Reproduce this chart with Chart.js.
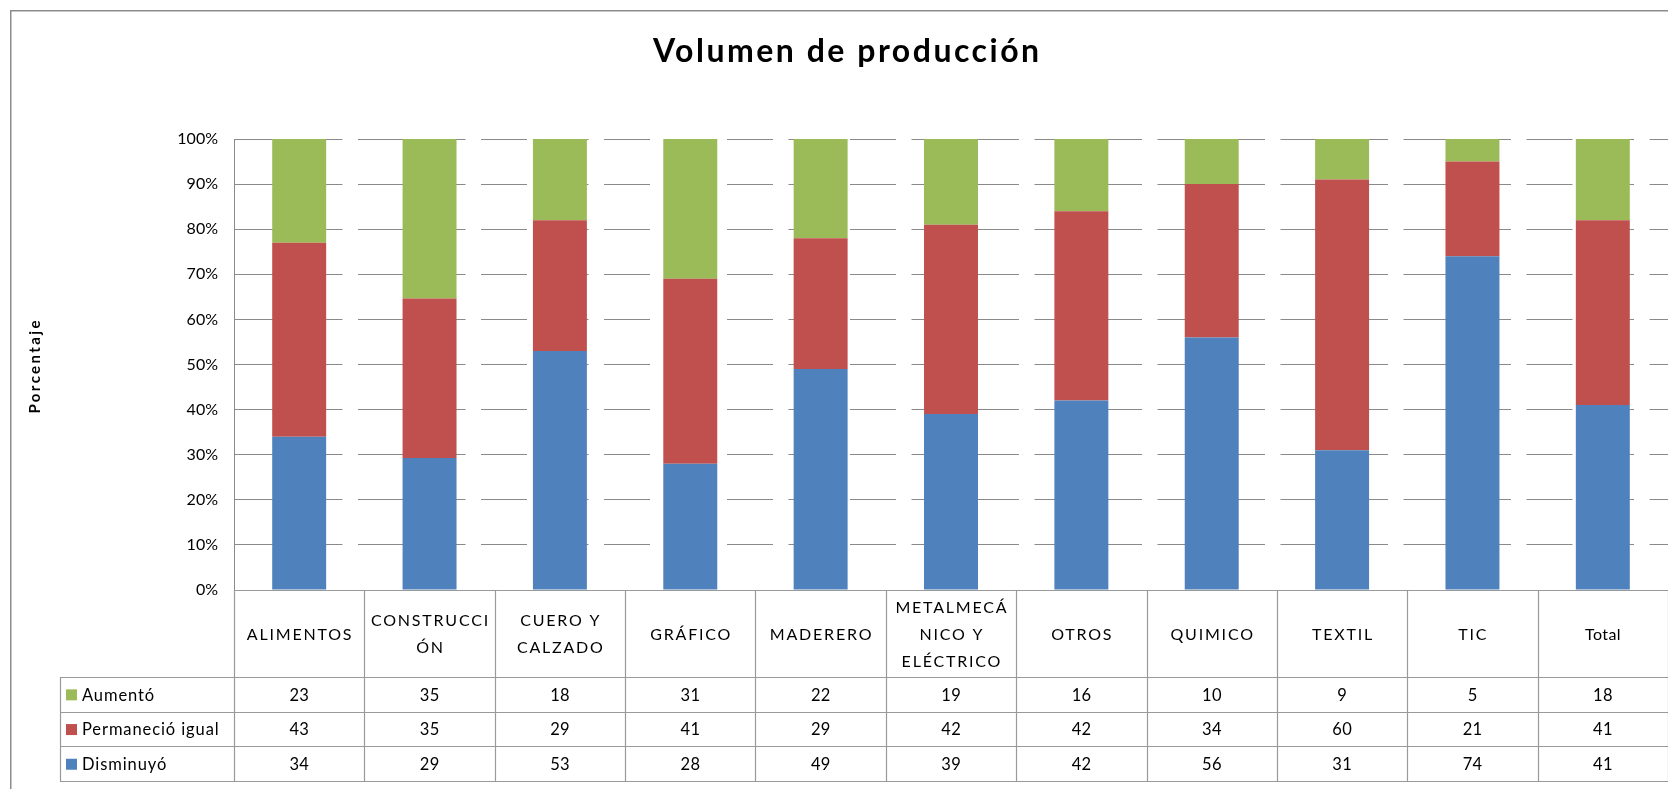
<!DOCTYPE html>
<html>
<head>
<meta charset="utf-8">
<script src="https://cdn.jsdelivr.net/npm/chart.js@4.4.0/dist/chart.umd.min.js"></script>
<style>
  html, body { margin: 0; padding: 0; background: #fff; }
</style>
</head>
<body>
<canvas id="chart" width="1668" height="789"></canvas>
<script>
// header labels of the data table, one entry per line
const categories = [
  ["ALIMENTOS"],
  ["CONSTRUCCI", "ÓN"],
  ["CUERO Y", "CALZADO"],
  ["GRÁFICO"],
  ["MADERERO"],
  ["METALMECÁ", "NICO Y", "ELÉCTRICO"],
  ["OTROS"],
  ["QUIMICO"],
  ["TEXTIL"],
  ["TIC"],
  ["Total"]
];
const aumento = [23, 35, 18, 31, 22, 19, 16, 10, 9, 5, 18];
const permanecio = [43, 35, 29, 41, 29, 42, 42, 34, 60, 21, 41];
const disminuyo = [34, 29, 53, 28, 49, 39, 42, 56, 31, 74, 41];
const yTicks = [0, 10, 20, 30, 40, 50, 60, 70, 80, 90, 100];

const FONT = "Lato, 'Open Sans', sans-serif";
const BLUE = "#4F81BD", RED = "#C0504D", GREEN = "#9BBB59";
const LINE = "#9a9a9a";

// 100% stacked: each bar is scaled to its own total
const totals = categories.map((_, i) => aumento[i] + permanecio[i] + disminuyo[i]);
const pct = (arr) => arr.map((v, i) => (v / totals[i]) * 100);

// table rows, top to bottom, as in the reference
const rows = [
  { label: "Aumentó", color: GREEN, values: aumento },
  { label: "Permaneció igual", color: RED, values: permanecio },
  { label: "Disminuyó", color: BLUE, values: disminuyo }
];

function spacedText(ctx, s, x, y, spacing, align) {
  ctx.letterSpacing = spacing + "px";
  ctx.textAlign = align;
  // centred text carries one trailing gap, shift it back
  const dx = align === "center" ? spacing / 2 : 0;
  ctx.fillText(s, x + dx, y);
  ctx.letterSpacing = "0px";
}

const tablePlugin = {
  id: "tablePlugin",
  afterDraw(chart) {
    const ctx = chart.ctx;
    const area = chart.chartArea;
    const x = chart.scales.x;
    const W = chart.width, H = chart.height;

    ctx.save();

    // outer frame (right and bottom are cut off in the reference)
    ctx.strokeStyle = "#8c8c8c";
    ctx.lineWidth = 1.5;
    ctx.beginPath();
    ctx.moveTo(10.75, H);
    ctx.lineTo(10.75, 10.75);
    ctx.lineTo(W, 10.75);
    ctx.stroke();

    // title
    ctx.fillStyle = "#000";
    ctx.font = "bold 32px " + FONT;
    ctx.textBaseline = "alphabetic";
    spacedText(ctx, "Volumen de producción", 846, 62, 2.5, "center");

    // y axis title
    ctx.save();
    ctx.translate(40, 367);
    ctx.rotate(-Math.PI / 2);
    ctx.font = "bold 15px " + FONT;
    spacedText(ctx, "Porcentaje", 0, 0, 2.4, "center");
    ctx.restore();

    // table geometry
    const n = categories.length;
    const slot = (x.getPixelForValue(1) - x.getPixelForValue(0));
    const bounds = [];
    for (let i = 0; i <= n; i++) bounds.push(x.getPixelForValue(0) - slot / 2 + i * slot);
    const headTop = area.bottom;
    const tableTop = 677;
    const rowH = 34.7;
    const tableLeft = 60;
    const tableBottom = tableTop + rowH * rows.length;

    ctx.strokeStyle = LINE;
    ctx.lineWidth = 1.2;
    ctx.beginPath();
    ctx.moveTo(bounds[0], headTop + 0.5);
    ctx.lineTo(W, headTop + 0.5);
    for (let r = 0; r <= rows.length; r++) {
      const yy = Math.round(tableTop + r * rowH) + 0.5;
      ctx.moveTo(tableLeft, yy);
      ctx.lineTo(W, yy);
    }
    ctx.moveTo(tableLeft + 0.5, tableTop);
    ctx.lineTo(tableLeft + 0.5, tableBottom);
    for (let i = 0; i < bounds.length; i++) {
      const xx = Math.round(bounds[i]) + 0.5;
      ctx.moveTo(xx, headTop);
      ctx.lineTo(xx, tableBottom);
    }
    ctx.stroke();

    // header labels
    ctx.fillStyle = "#000";
    ctx.font = "16px " + FONT;
    ctx.textBaseline = "middle";
    const headMid = (headTop + tableTop) / 2 + 1;
    const lh = 27;
    categories.forEach((lines, i) => {
      const cx = x.getPixelForValue(i);
      const upper = lines.join("") === lines.join("").toUpperCase();
      lines.forEach((s, k) => {
        const yy = headMid + (k - (lines.length - 1) / 2) * lh;
        spacedText(ctx, s, cx, yy, upper ? 1.8 : 0.4, "center");
      });
    });

    // legend keys and values
    ctx.font = "16.5px " + FONT;
    rows.forEach((row, r) => {
      const mid = tableTop + r * rowH + rowH / 2 + 1;
      ctx.fillStyle = row.color;
      ctx.fillRect(66, mid - 6, 11, 11);
      ctx.fillStyle = "#000";
      spacedText(ctx, row.label, 82, mid, 0.9, "left");
      row.values.forEach((v, i) => {
        spacedText(ctx, String(v), x.getPixelForValue(i), mid, 0.3, "center");
      });
    });

    ctx.restore();
  }
};

new Chart(document.getElementById("chart"), {
  type: "bar",
  data: {
    labels: categories.map((c) => c.join(" ")),
    datasets: [
      { label: "Disminuyó", data: pct(disminuyo), backgroundColor: BLUE },
      { label: "Permaneció igual", data: pct(permanecio), backgroundColor: RED },
      { label: "Aumentó", data: pct(aumento), backgroundColor: GREEN }
    ]
  },
  options: {
    responsive: false,
    animation: false,
    layout: { padding: { left: 20, top: 139, right: 0, bottom: 199 } },
    datasets: { bar: { categoryPercentage: 1, barPercentage: 0.414 } },
    plugins: {
      legend: { display: false },
      title: { display: false },
      tooltip: { enabled: false }
    },
    scales: {
      x: { stacked: true, display: false },
      y: {
        stacked: true,
        min: 0,
        max: 100,
        afterBuildTicks: (scale) => { scale.ticks = yTicks.map((v) => ({ value: v })); },
        afterFit: (scale) => { scale.width = 214; },
        ticks: {
          callback: (v) => v + "%",
          color: "#000",
          padding: 16,
          font: { family: FONT, size: 16 }
        },
        grid: { color: "#8a8a8a", lineWidth: 1, drawTicks: false },
        border: { display: true, color: "#8a8a8a", width: 1, dash: [46, 15.5] }
      }
    }
  },
  plugins: [tablePlugin]
});
</script>
</body>
</html>
